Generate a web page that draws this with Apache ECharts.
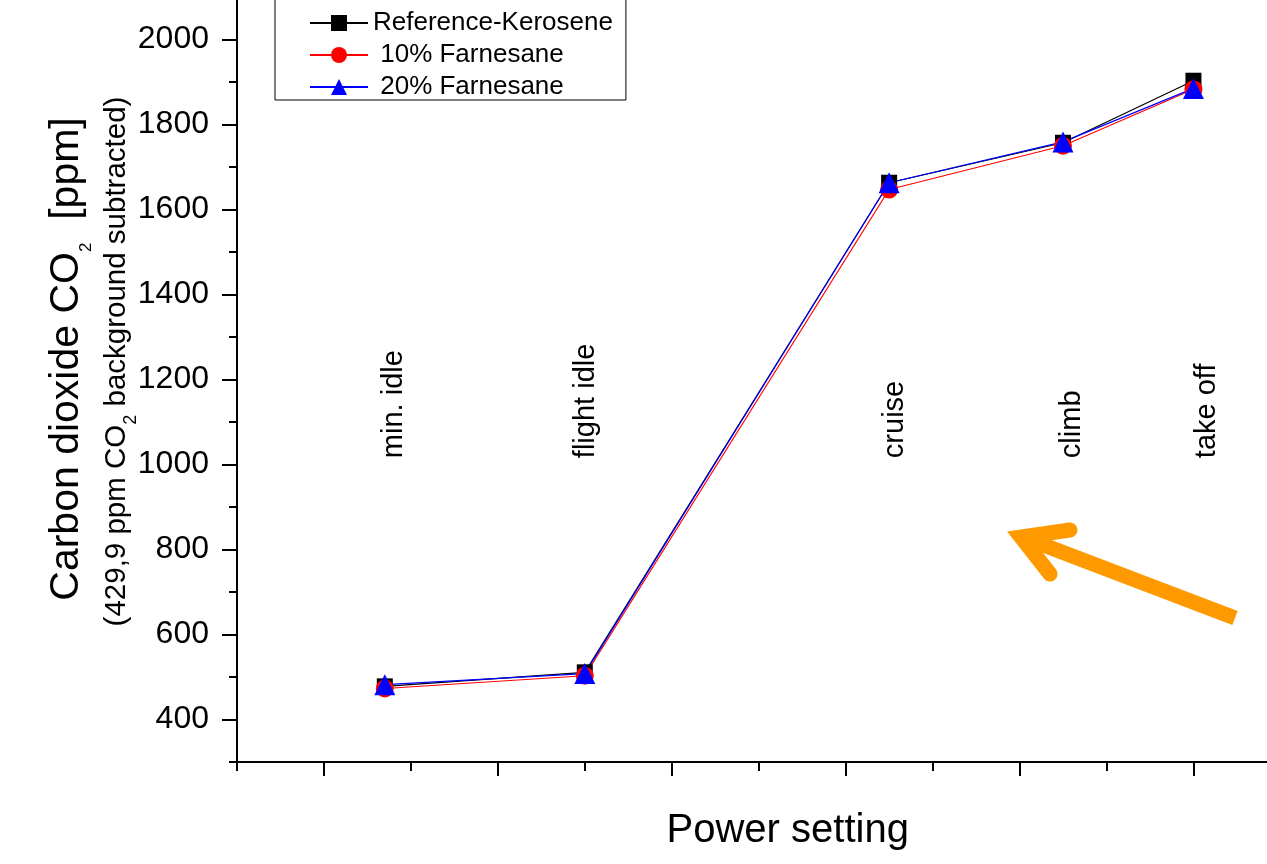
<!DOCTYPE html>
<html><head><meta charset="utf-8">
<script src="https://cdn.jsdelivr.net/npm/echarts@6/dist/echarts.min.js"></script>
<style>html,body{margin:0;padding:0;background:#fff}#c{width:1267px;height:864px}</style>
</head><body><div id="c"></div>
<script>
const categories = ['min. idle', 'flight idle', 'cruise', 'climb', 'take off'];
const thrust = [7, 30, 65, 85, 100];
const kerosene = [478, 511, 1663, 1757, 1903];
const farnesane10 = [473, 503, 1647, 1750, 1883];
const farnesane20 = [482, 508, 1663, 1759, 1885];
const labelX = [8.1, 30.1, 65.7, 86.0, 101.6];
const labelY = 1015;
const yMajorTicks = [400, 600, 800, 1000, 1200, 1400, 1600, 1800, 2000];
const yMinorTicks = [300, 500, 700, 900, 1100, 1300, 1500, 1700, 1900, 2100];
const xMajorTicks = [0, 20, 40, 60, 80, 100];
const xMinorTicks = [-10, 10, 30, 50, 70, 90, 110];
const seriesNames = ['Reference-Kerosene', '10% Farnesane', '20% Farnesane'];

const FONT = '"Liberation Sans", Arial, sans-serif';
const pairs = (xs, ys) => xs.map((x, i) => [x, ys[i]]);

const chart = echarts.init(document.getElementById('c'), null, { renderer: 'canvas' });
const lineSeries = (name, data, color, symbol, size) => ({
  name, type: 'line', data: pairs(thrust, data), xAxisIndex: 0, yAxisIndex: 0,
  symbol, symbolSize: size, showAllSymbol: true,
  lineStyle: { color, width: 1.2 }, itemStyle: { color },
  emphasis: { disabled: true }
});

chart.setOption({
  animation: false,
  backgroundColor: '#fff',
  grid: { left: 237, width: 1043.4, bottom: 102, height: 765, containLabel: false, outerBoundsMode: 'none' },
  legend: {
    data: seriesNames, orient: 'vertical', left: 275, top: -10,
    padding: [20, 13, 0, 34], itemWidth: 58, itemHeight: 20, itemGap: 6,
    borderColor: '#000', borderWidth: 1, borderRadius: 0, selectedMode: false,
    textStyle: { fontSize: 26, fontFamily: FONT, color: '#000' },
    formatter: n => (n === seriesNames[0] ? n : ' ' + n)
  },
  xAxis: [
    {
      type: 'value', position: 'bottom', min: -10, max: 110,
      axisLine: { show: true, onZero: false, lineStyle: { color: '#000', width: 2 } },
      axisTick: { show: true, customValues: xMajorTicks, length: 14, lineStyle: { color: '#000', width: 2 } },
      axisLabel: { show: false }, splitLine: { show: false },
      name: 'Power setting', nameLocation: 'middle', nameGap: 49,
      nameTextStyle: { fontSize: 40, fontFamily: FONT, color: '#000', padding: [0, 0, 0, 58] }
    },
    {
      type: 'value', position: 'bottom', min: -10, max: 110,
      axisLine: { show: false, onZero: false },
      axisTick: { show: true, customValues: xMinorTicks, length: 9, lineStyle: { color: '#000', width: 2 } },
      axisLabel: { show: false }, splitLine: { show: false }
    }
  ],
  yAxis: [
    {
      type: 'value', position: 'left', min: 300, max: 2100,
      axisLine: { show: true, onZero: false, lineStyle: { color: '#000', width: 2 } },
      axisTick: { show: true, customValues: yMajorTicks, length: 15, lineStyle: { color: '#000', width: 2 } },
      axisLabel: { show: true, customValues: yMajorTicks, formatter: v => String(v), fontSize: 32, fontFamily: FONT, color: '#000', margin: 28 },
      splitLine: { show: false }
    },
    {
      type: 'value', position: 'left', min: 300, max: 2100,
      axisLine: { show: false, onZero: false },
      axisTick: { show: true, customValues: yMinorTicks, length: 8, lineStyle: { color: '#000', width: 2 } },
      axisLabel: { show: false }, splitLine: { show: false }
    }
  ],
  series: [
    lineSeries(seriesNames[0], kerosene, '#000000', 'rect', 16),
    lineSeries(seriesNames[1], farnesane10, '#FF0000', 'circle', 18),
    lineSeries(seriesNames[2], farnesane20, '#0000FF', 'triangle', 21),
    {
      name: 'labels', type: 'custom', xAxisIndex: 0, yAxisIndex: 0, silent: true,
      data: labelX.map((x, i) => [x, labelY, i]),
      renderItem: (params, api) => {
        const p = api.coord([api.value(0), api.value(1)]);
        return {
          type: 'text', x: p[0], y: p[1], rotation: Math.PI / 2,
          style: {
            text: categories[api.value(2)], fill: '#000', fontSize: 29, fontFamily: FONT,
            align: 'left', verticalAlign: 'middle'
          }
        };
      }
    }
  ],
  graphic: [
    {
      type: 'text', x: 66.5, y: 359, rotation: Math.PI / 2,
      style: {
        text: '{a|Carbon dioxide CO}{s|2}{a|  [ppm]}', align: 'center', verticalAlign: 'middle',
        rich: {
          a: { fontSize: 41, lineHeight: 41, verticalAlign: 'top', fontFamily: FONT, fill: '#000' },
          s: { fontSize: 17, lineHeight: 17, verticalAlign: 'top', padding: [32, 0, 0, 0], fontFamily: FONT, fill: '#000' }
        }
      }
    },
    {
      type: 'text', x: 117, y: 361.5, rotation: Math.PI / 2,
      style: {
        text: '{a|(429,9 ppm CO}{s|2}{a| background subtracted)}', align: 'center', verticalAlign: 'middle',
        rich: {
          a: { fontSize: 29.5, lineHeight: 30, verticalAlign: 'top', fontFamily: FONT, fill: '#000' },
          s: { fontSize: 18, lineHeight: 18, verticalAlign: 'top', padding: [20, 0, 0, 0], fontFamily: FONT, fill: '#000' }
        }
      }
    },
    {
      type: 'line', shape: { x1: 1235, y1: 618, x2: 1025, y2: 538 },
      style: { stroke: '#FF9900', lineWidth: 15, lineCap: 'butt' }
    },
    {
      type: 'polyline', shape: { points: [[1070, 530], [1021, 537], [1050, 574]] },
      style: { stroke: '#FF9900', fill: null, lineWidth: 15, lineJoin: 'miter', lineCap: 'round' }
    }
  ]
});
</script></body></html>
